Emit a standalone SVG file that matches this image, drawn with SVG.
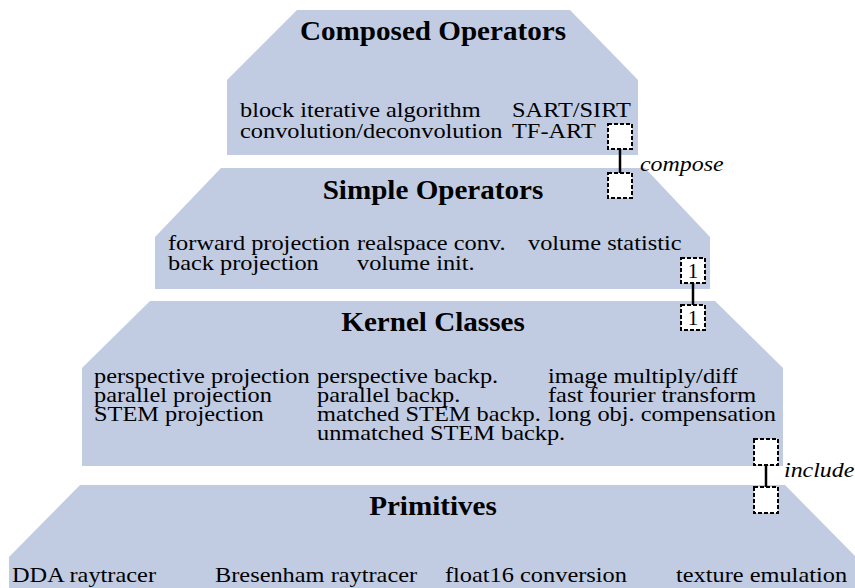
<svg xmlns="http://www.w3.org/2000/svg" width="855" height="588" viewBox="0 0 855 588">
<style>
.layer{fill:#c1cce3;stroke:none}
.t{font-family:"Liberation Serif","Times New Roman",serif;fill:#000}
.h{font-size:28px;font-weight:bold;text-anchor:middle}
.b{font-size:21px}
.i{font-size:21px;font-style:italic}
.n{font-size:20px;text-anchor:middle}
.box{fill:#fff;stroke:#000;stroke-width:2;stroke-dasharray:4 2}
.con{stroke:#000;stroke-width:2.5;fill:none}
</style>
<rect width="855" height="588" fill="#fff"/>
<g id="composed">
<polygon class="layer" points="297,10 570,10 638,80 638,155 227,155 227,80"/>
<text class="t h" transform="translate(433 40) scale(1.04 1)">Composed Operators</text>
<text class="t b" transform="translate(240 117) scale(1.16 1)">block iterative algorithm</text>
<text class="t b" transform="translate(512 117) scale(1.16 1)">SART/SIRT</text>
<text class="t b" transform="translate(240 138) scale(1.16 1)">convolution/deconvolution</text>
<text class="t b" transform="translate(512 138) scale(1.16 1)">TF-ART</text>
</g>
<g id="simple">
<polygon class="layer" points="221,168 645,168 710,237 710,289 155,289 155,237"/>
<text class="t h" transform="translate(433 199) scale(1.04 1)">Simple Operators</text>
<text class="t b" transform="translate(168 250) scale(1.16 1)">forward projection</text>
<text class="t b" transform="translate(357 250) scale(1.16 1)">realspace conv.</text>
<text class="t b" transform="translate(528 250) scale(1.16 1)">volume statistic</text>
<text class="t b" transform="translate(168 270) scale(1.16 1)">back projection</text>
<text class="t b" transform="translate(357 270) scale(1.16 1)">volume init.</text>
</g>
<g id="kernel">
<polygon class="layer" points="150,301 715,301 783,368 783,466 82,466 82,368"/>
<text class="t h" transform="translate(433 331) scale(1.04 1)">Kernel Classes</text>
<text class="t b" transform="translate(94 383) scale(1.16 1)">perspective projection</text>
<text class="t b" transform="translate(317 383) scale(1.16 1)">perspective backp.</text>
<text class="t b" transform="translate(548 383) scale(1.16 1)">image multiply/diff</text>
<text class="t b" transform="translate(94 402) scale(1.16 1)">parallel projection</text>
<text class="t b" transform="translate(317 402) scale(1.16 1)">parallel backp.</text>
<text class="t b" transform="translate(548 402) scale(1.16 1)">fast fourier transform</text>
<text class="t b" transform="translate(94 421) scale(1.16 1)">STEM projection</text>
<text class="t b" transform="translate(317 421) scale(1.16 1)">matched STEM backp.</text>
<text class="t b" transform="translate(548 421) scale(1.16 1)">long obj. compensation</text>
<text class="t b" transform="translate(317 440) scale(1.16 1)">unmatched STEM backp.</text>
</g>
<g id="primitives">
<polygon class="layer" points="80,485 785,485 856,557 856,588 9,588 9,557"/>
<text class="t h" transform="translate(433 515) scale(1.04 1)">Primitives</text>
<text class="t b" transform="translate(12 582) scale(1.16 1)">DDA raytracer</text>
<text class="t b" transform="translate(215 582) scale(1.16 1)">Bresenham raytracer</text>
<text class="t b" transform="translate(445 582) scale(1.16 1)">float16 conversion</text>
<text class="t b" transform="translate(676 582) scale(1.16 1)">texture emulation</text>
</g>
<g id="connectors">
<g id="compose">
<line class="con" x1="620" y1="149" x2="620" y2="173"/>
<rect class="box" x="608" y="124" width="24" height="25"/>
<rect class="box" x="608" y="173" width="24" height="25"/>
<text class="t i" transform="translate(640 171) scale(1.14 1)">compose</text>
</g>
<g id="one-to-one">
<line class="con" x1="693" y1="283" x2="693" y2="305"/>
<rect class="box" x="681" y="258" width="24" height="25"/>
<text class="t n" transform="translate(693 278) scale(1.05 1)">1</text>
<rect class="box" x="681" y="305" width="24" height="25"/>
<text class="t n" transform="translate(693 325) scale(1.05 1)">1</text>
</g>
<g id="include">
<line class="con" x1="766" y1="465" x2="766" y2="487"/>
<rect class="box" x="754" y="439" width="24" height="26"/>
<rect class="box" x="754" y="487" width="24" height="26"/>
<text class="t i" transform="translate(784 477) scale(1.14 1)">include</text>
</g>
</g>
</svg>
